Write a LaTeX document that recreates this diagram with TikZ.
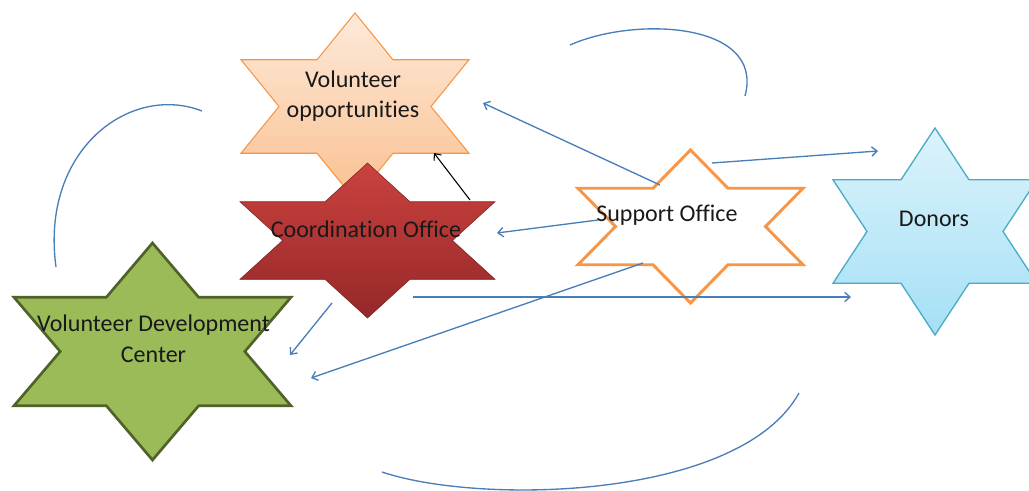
\documentclass[tikz,border=0pt]{standalone}
\usepackage{fontspec}
\setmainfont{Carlito}[Ligatures=NoCommon]
\usetikzlibrary{arrows.meta}

\definecolor{linkblue}{RGB}{74,126,187}
\definecolor{peachtop}{RGB}{253,234,218}
\definecolor{peachbot}{RGB}{250,192,144}
\definecolor{peachline}{RGB}{247,150,70}
\definecolor{redtop}{RGB}{202,66,63}
\definecolor{redbot}{RGB}{150,40,40}
\definecolor{skytop}{RGB}{220,243,251}
\definecolor{skybot}{RGB}{164,224,245}
\definecolor{skyline}{RGB}{75,172,198}
\definecolor{olivefill}{RGB}{155,187,89}
\definecolor{oliveline}{RGB}{79,98,40}

% six pointed star: style, centre, half width, half height
\newcommand{\sixstar}[4]{%
  \path[#1, shift={(#2)}, xscale=#3, yscale=#4]
    (0,1) -- (1/3,.5) -- (1,.5) -- (2/3,0) -- (1,-.5) -- (1/3,-.5)
    -- (0,-1) -- (-1/3,-.5) -- (-1,-.5) -- (-2/3,0) -- (-1,.5) -- (-1/3,.5) -- cycle;}

\begin{document}
\begin{tikzpicture}[x=0.75pt, y=-0.75pt,
    lbl/.style={align=center, font=\fontsize{18}{23}\selectfont, text=black!90},
    link/.style={draw=linkblue, line width=1pt, -{Straight Barb[length=4pt,width=7pt]}},
    swirl/.style={draw=linkblue, line width=1pt},
    vostar/.style={draw=peachline, line width=0.8pt, top color=peachtop, bottom color=peachbot},
    costar/.style={draw=redbot!80!black, line width=0.4pt, top color=redtop, bottom color=redbot},
    sostar/.style={draw=peachline, line width=2.2pt, fill=white},
    dostar/.style={draw=skyline, line width=1pt, top color=skytop, bottom color=skybot},
    vdstar/.style={draw=oliveline, line width=2pt, fill=olivefill}
  ]
  \clip (0,0) rectangle (1029,490);
  \fill[white] (0,0) rectangle (1029,490);

  % stars
  \sixstar{vostar}{355,106.5}{114}{93.5}
  \sixstar{costar}{367.5,240.5}{127.5}{77.5}
  \sixstar{sostar}{690.5,226.5}{112.5}{76.5}
  \sixstar{dostar}{935,231.5}{102}{103.5}
  \sixstar{vdstar}{152.5,351.5}{138.5}{108.5}

  % labels
  \node[lbl] (vo) at (353,96) {Volunteer\\opportunities};
  \node[lbl] (co) at (366,229) {Coordination Office};
  \node[lbl] (so) at (667,215) {Support Office};
  \node[lbl] (donors) at (934,219) {Donors};
  \node[lbl] (vdc) at (153.5,339) {Volunteer Development\\Center};

  % arrow ends
  \coordinate (so-vo) at (660,185);
  \coordinate (vo-in) at (483,103);
  \coordinate (so-do) at (712,163);
  \coordinate (do-in) at (878,151);
  \coordinate (so-co) at (598,220);
  \coordinate (co-in) at (497,233);
  \coordinate (so-vd) at (643,263);
  \coordinate (vd-in) at (311,378);
  \coordinate (co-do) at (413,297);
  \coordinate (do-low) at (851,297);
  \coordinate (co-vd) at (332,303);
  \coordinate (vd-top) at (290,355);
  \coordinate (co-vo) at (470,200);
  \coordinate (vo-low) at (434,153);

  % connectors
  \draw[link] (so-vo) -- (vo-in);
  \draw[link] (so-do) -- (do-in);
  \draw[link] (so-co) -- (co-in);
  \draw[link] (so-vd) -- (vd-in);
  \draw[link] (co-do) -- (do-low);
  \draw[link] (co-vd) -- (vd-top);
  \draw[-{Straight Barb[length=4pt,width=7pt]}, line width=0.8pt] (co-vo) -- (vo-low);

  % loose curves
  \draw[swirl] (570,45) .. controls (635,16) and (765,22) .. (745,96);
  \draw[swirl] (202,111) .. controls (130,83) and (40,150) .. (56,267);
  \draw[swirl] (382,472) .. controls (480,505) and (740,500) .. (799,393);
\end{tikzpicture}
\end{document}
